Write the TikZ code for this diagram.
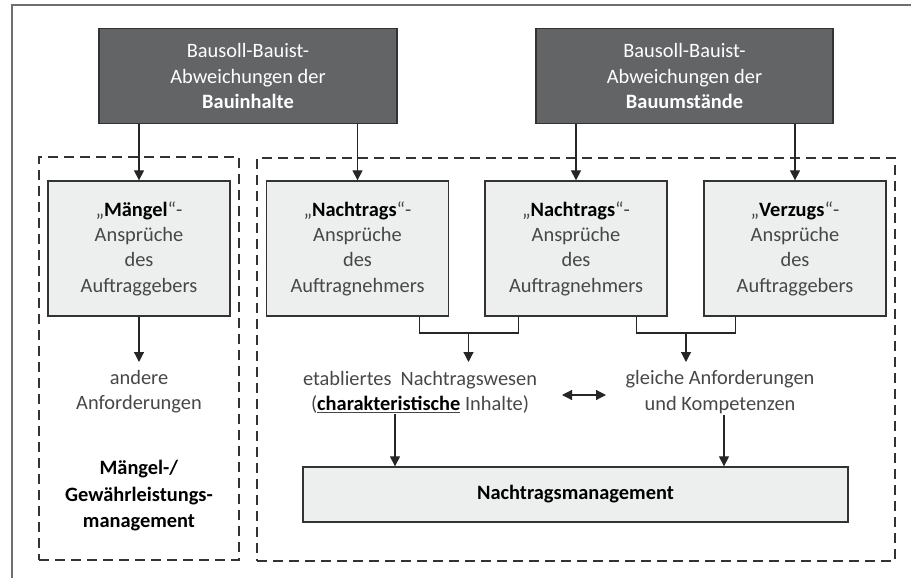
\documentclass[tikz,border=0pt]{standalone}
\usepackage{fontspec}
\setmainfont{Carlito}
\usetikzlibrary{arrows.meta}
\definecolor{darkfill}{HTML}{636466}
\definecolor{lightfill}{HTML}{EDEEEE}
\definecolor{edge}{HTML}{333333}
\definecolor{txtgray}{HTML}{474747}
\definecolor{framegray}{HTML}{6E6E6E}
\begin{document}
\begin{tikzpicture}[x=1pt,y=-1pt,
  base/.style={font=\fontsize{20.4}{25.3}\selectfont, align=center},
  darkbox/.style={base, draw=edge, line width=1.2pt, fill=darkfill, text=white, minimum width=298pt, minimum height=95pt, inner sep=0pt},
  lightbox/.style={base, draw=edge, line width=1.3pt, fill=lightfill, text=txtgray, minimum width=182pt, minimum height=135pt, inner sep=0pt},
  txt/.style={base, text=txtgray, inner sep=0pt},
  dashbox/.style={draw=edge, line width=1.2pt, dash pattern=on 10pt off 6pt, inner sep=0pt},
  arr/.style={draw=black!85, line width=1.2pt, -{Triangle[length=10pt,width=10pt]}},
  darr/.style={draw=black!85, line width=1.2pt, {Triangle[length=10pt,width=10pt]}-{Triangle[length=10pt,width=10pt]}},
  conn/.style={draw=black!85, line width=1.2pt},
  frame/.style={draw=framegray, line width=1.8pt}
]
\useasboundingbox (0,0) rectangle (911,578);
\draw[frame] (12,578) -- (12,5) -- (911,5);

% dashed groups
\node[dashbox, minimum width=200pt, minimum height=403pt] (lg) at (139,358.5) {};
\node[dashbox, minimum width=638pt, minimum height=403pt] (rg) at (576,359.5) {};

% top boxes
\node[darkbox] (bi) at (248,76) {Bausoll-Bauist-\\Abweichungen der\\\textbf{Bauinhalte}};
\node[darkbox, minimum width=297pt] (bu) at (684.5,76) {Bausoll-Bauist-\\Abweichungen der\\\textbf{Bauumstände}};

% claim boxes
\node[lightbox] (m) at (139,248.5) {„\textcolor{black}{\textbf{Mängel}}“-\\Ansprüche\\des\\Auftraggebers};
\node[lightbox] (n1) at (357.5,248.5) {„\textcolor{black}{\textbf{Nachtrags}}“-\\Ansprüche\\des\\Auftragnehmers};
\node[lightbox] (n2) at (576,248.5) {„\textcolor{black}{\textbf{Nachtrags}}“-\\Ansprüche\\des\\Auftragnehmers};
\node[lightbox] (v) at (795,248.5) {„\textcolor{black}{\textbf{Verzugs}}“-\\Ansprüche\\des\\Auftraggebers};

% text nodes
\node[txt] (andere) at (139,392) {andere\\Anforderungen};
\node[txt, text=black, font=\fontsize{20.4}{26.5}\selectfont] (mgm) at (139,496) {\textbf{Mängel-/}\\\textbf{Gewährleistungs-}\\\textbf{management}};
\node[txt] (etab) at (420,392) {etabliertes\ \ Nachtragswesen\\(\underline{\textcolor{black}{\textbf{charakteristische}}} Inhalte)};
\node[txt] (gleich) at (720,392) {gleiche Anforderungen\\und Kompetenzen};

% management box
\node[lightbox, minimum width=545pt, minimum height=55pt, text=black] (nm) at (575.5,494.5) {\textbf{Nachtragsmanagement}};

% arrows from top boxes
\draw[arr] (bi.south -| m.north) -- (m.north);
\draw[arr] (bi.south -| n1.north) -- (n1.north);
\draw[arr] (bu.south -| n2.north) -- (n2.north);
\draw[arr] (bu.south -| v.north) -- (v.north);

% Maengel arrow
\coordinate (ma) at (139,362);
\draw[arr] (m.south) -- (ma);

% brackets
\coordinate (b1) at (468.5,333);
\coordinate (b2) at (686,333);
\draw[conn] ([xshift=-30pt]n1.south east) |- (b1) -| ([xshift=34pt]n2.south west);
\draw[conn] ([xshift=-31pt]n2.south east) |- (b2) -| ([xshift=32pt]v.south west);
\coordinate (t1) at (468.5,362);
\coordinate (t2) at (686,362);
\draw[arr] (b1) -- (t1);
\draw[arr] (b2) -- (t2);

% double arrow
\coordinate (d1) at (562,395);
\coordinate (d2) at (606,395);
\draw[darr] (d1) -- (d2);

% arrows to management
\coordinate (c1) at (395,414);
\coordinate (c2) at (724,415);
\draw[arr] (c1) -- (c1 |- nm.north);
\draw[arr] (c2) -- (c2 |- nm.north);
\end{tikzpicture}
\end{document}
